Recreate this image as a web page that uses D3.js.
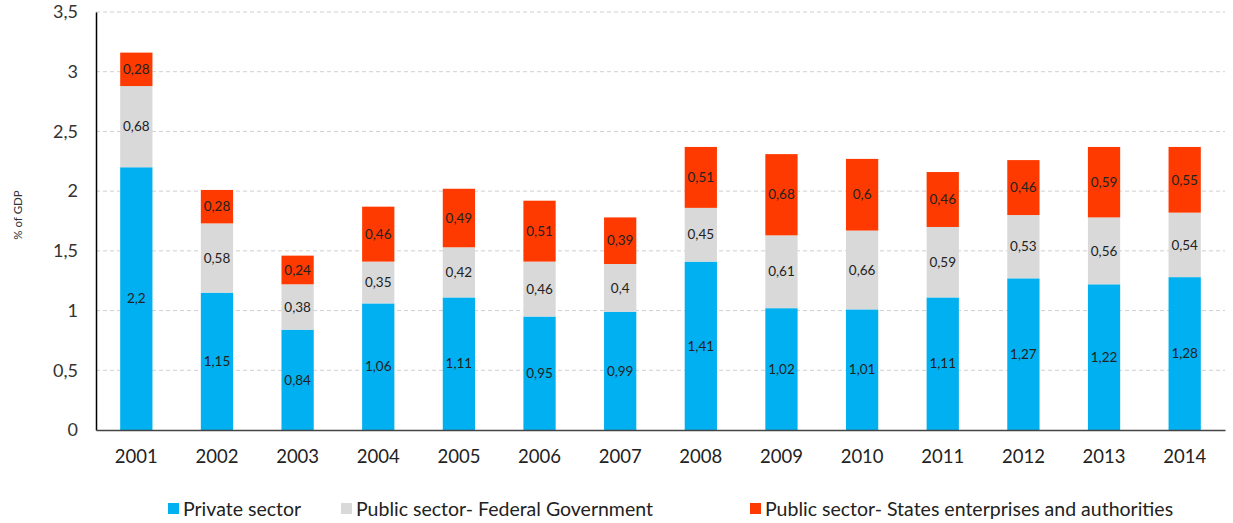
<!DOCTYPE html>
<html>
<head>
<meta charset="utf-8">
<script src="https://cdnjs.cloudflare.com/ajax/libs/d3/7.8.5/d3.min.js"></script>
<style>
  body { margin: 0; background: #fff; }
  svg { font-family: Lato, "Open Sans", sans-serif; }
</style>
</head>
<body>
<div id="chart"></div>
<script>
const years = ["2001", "2002", "2003", "2004", "2005", "2006", "2007", "2008", "2009", "2010", "2011", "2012", "2013", "2014"];
const privateSector = [2.2, 1.15, 0.84, 1.06, 1.11, 0.95, 0.99, 1.41, 1.02, 1.01, 1.11, 1.27, 1.22, 1.28];
const federalGov = [0.68, 0.58, 0.38, 0.35, 0.42, 0.46, 0.4, 0.45, 0.61, 0.66, 0.59, 0.53, 0.56, 0.54];
const statesEnt = [0.28, 0.28, 0.24, 0.46, 0.49, 0.51, 0.39, 0.51, 0.68, 0.6, 0.46, 0.46, 0.59, 0.55];
const seriesNames = ["Private sector", "Public sector- Federal Government", "Public sector- States enterprises and authorities"];
const yTicks = [0, 0.5, 1, 1.5, 2, 2.5, 3, 3.5];

const colors = ["#00b0f0", "#d9d9d9", "#ff3a00"];
const width = 1233, height = 523;
const margin = { left: 96, right: 8, top: 12, bottom: 93 };

const svg = d3.select("#chart").append("svg")
    .attr("width", width)
    .attr("height", height);

const x = d3.scaleBand()
    .domain(years)
    .range([margin.left, width - margin.right])
    .paddingInner(0.6)
    .paddingOuter(0.3);

const y = d3.scaleLinear()
    .domain([0, 3.5])
    .range([height - margin.bottom, margin.top]);

const fmt = v => String(v).replace(".", ",");

// grid
svg.append("g")
    .selectAll("line")
    .data(yTicks.slice(1))
    .join("line")
    .attr("x1", margin.left)
    .attr("x2", width - margin.right)
    .attr("y1", d => y(d))
    .attr("y2", d => y(d))
    .attr("stroke", "#d0d0d0")
    .attr("stroke-dasharray", "4,3");

// stacked data
const rows = years.map((yr, i) => ({
    year: yr,
    s0: privateSector[i],
    s1: federalGov[i],
    s2: statesEnt[i]
}));
const stack = d3.stack().keys(["s0", "s1", "s2"]);
const layers = stack(rows);

const g = svg.append("g");
layers.forEach((layer, k) => {
    g.selectAll(".bar" + k)
        .data(layer)
        .join("rect")
        .attr("x", d => x(d.data.year))
        .attr("width", x.bandwidth())
        .attr("y", d => y(d[1]))
        .attr("height", d => y(d[0]) - y(d[1]))
        .attr("fill", colors[k]);
    g.selectAll(".lab" + k)
        .data(layer)
        .join("text")
        .attr("x", d => x(d.data.year) + x.bandwidth() / 2)
        .attr("y", d => (y(d[0]) + y(d[1])) / 2)
        .attr("dy", "0.35em")
        .attr("text-anchor", "middle")
        .attr("font-size", 13.5)
        .attr("fill", "#222")
        .text(d => fmt(d.data[layer.key]));
});

// axes
const yAxis = svg.append("g")
    .attr("transform", "translate(" + margin.left + ",0)")
    .call(d3.axisLeft(y).tickValues(yTicks).tickFormat(fmt).tickSize(0).tickPadding(18));
yAxis.select(".domain").attr("stroke", "#000").attr("stroke-width", 1.5);
yAxis.selectAll("text").attr("font-size", 18).attr("fill", "#333").attr("font-family", "Lato, sans-serif");

const xAxis = svg.append("g")
    .attr("transform", "translate(0," + (height - margin.bottom) + ")")
    .call(d3.axisBottom(x).tickSize(0).tickPadding(20));
xAxis.select(".domain").attr("stroke", "#444").attr("stroke-width", 1.5);
xAxis.selectAll("text").attr("font-size", 18.5).attr("fill", "#222").attr("font-family", "Lato, sans-serif");

// y title
svg.append("text")
    .attr("transform", "translate(22,215) rotate(-90)")
    .attr("text-anchor", "middle")
    .attr("font-size", 11.5)
    .attr("fill", "#333")
    .text("% of GDP");

// legend
const legendX = [168, 341, 750];
const legend = svg.append("g")
    .selectAll("g")
    .data(seriesNames)
    .join("g")
    .attr("transform", (d, i) => "translate(" + legendX[i] + ",503)");
legend.append("rect")
    .attr("width", 11)
    .attr("height", 11)
    .attr("fill", (d, i) => colors[i]);
legend.append("text")
    .attr("x", 15)
    .attr("y", 6)
    .attr("dy", "0.35em")
    .attr("font-size", 19.5)
    .attr("fill", "#222")
    .text(d => d);
</script>
</body>
</html>
